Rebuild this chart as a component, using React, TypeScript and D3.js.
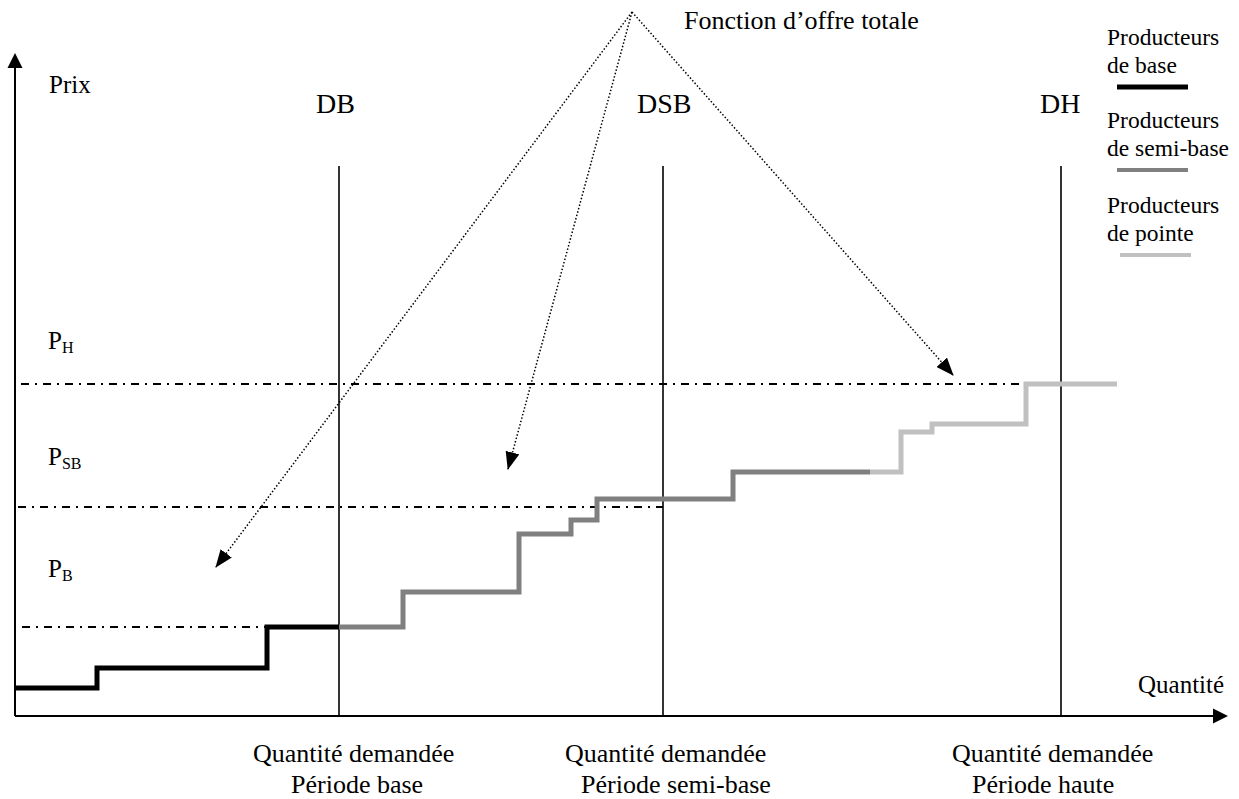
import React from "react";
import * as d3 from "d3";

// ---- data (abstract units: quantity, price) ----
const baseSteps: [number, number][] = [
  [0, 2.8], [8.2, 4.8], [25.2, 8.9], [32.4, 8.9],
];
const semiBaseSteps: [number, number][] = [
  [32.4, 8.9], [38.8, 12.4], [50.4, 18.2], [55.6, 19.6], [58.2, 21.7], [71.8, 24.4], [85.5, 24.4],
];
const peakSteps: [number, number][] = [
  [85.5, 24.4], [88.6, 28.4], [91.7, 29.2], [101.1, 33.2], [110.2, 33.2],
];
const demandNames = ["DB", "DSB", "DH"];
const demandQty = [32.4, 64.8, 104.6];
const demandTop = 55;
const demandLabelLine1 = ["Quantité demandée", "Quantité demandée", "Quantité demandée"];
const demandLabelLine2 = ["Période base", "Période semi-base", "Période haute"];
const priceNames = ["B", "SB", "H"];
const priceLevels = [8.9, 20.9, 33.2];
const priceLineStart = [0.7, 0.3, 0.6];
const priceLineEnd = [25.1, 64.8, 104.6];
const arrowOrigin: [number, number] = [61.7, 70.4];
const arrowTips: [number, number][] = [[20.1, 14.9], [49.3, 24.7], [93.8, 34.1]];
const legendNames = [
  ["Producteurs", "de base"],
  ["Producteurs", "de semi-base"],
  ["Producteurs", "de pointe"],
];
const seriesColors = ["#000000", "#808080", "#c0c0c0"];

const W = 1239;
const H = 799;
const FONT = "'Liberation Serif', 'Times New Roman', serif";

export default function App() {
  const x = d3.scaleLinear().domain([0, 121.3]).range([15, 1228]);
  const y = d3.scaleLinear().domain([0, 66.3]).range([716, 53]);
  const line = d3
    .line<[number, number]>()
    .x((d) => x(d[0]))
    .y((d) => y(d[1]))
    .curve(d3.curveStepAfter);
  const series = [baseSteps, semiBaseSteps, peakSteps];

  const legendY = [45, 128, 213];
  const priceLabelY = [577, 465, 349];
  const labelLine1X = [253, 565, 952];
  const labelLine2X = [291, 581, 972];
  const demandLabelX = [316, 637, 1040];

  return (
    <svg
      width={W}
      height={H}
      style={{ position: "absolute", left: 0, top: 0, background: "#fff" }}
      fontFamily={FONT}
    >
      <defs>
        <marker
          id="tri"
          viewBox="0 0 18 14"
          refX="17"
          refY="7"
          markerWidth="18"
          markerHeight="14"
          markerUnits="userSpaceOnUse"
          orient="auto"
        >
          <path d="M0,0 L18,7 L0,14 Z" fill="#000" />
        </marker>
      </defs>

      {/* axes */}
      <line x1={x(0)} y1={y(0)} x2={x(0)} y2={y(66.3) + 14} stroke="#000" strokeWidth={2} />
      <path
        d={`M${x(0) - 7.5},${y(66.3) + 15} L${x(0)},${y(66.3)} L${x(0) + 7.5},${y(66.3) + 15} Z`}
        fill="#000"
      />
      <line x1={x(0)} y1={y(0)} x2={x(121.3) - 14} y2={y(0)} stroke="#000" strokeWidth={2} />
      <path
        d={`M${x(121.3) - 15},${y(0) - 7.5} L${x(121.3)},${y(0)} L${x(121.3) - 15},${y(0) + 7.5} Z`}
        fill="#000"
      />

      {/* price level lines */}
      {priceLevels.map((p, i) => (
        <line
          key={"p" + i}
          x1={x(priceLineStart[i])}
          x2={x(priceLineEnd[i])}
          y1={y(p)}
          y2={y(p)}
          stroke="#000"
          strokeWidth={1.8}
          strokeDasharray="8 6 2 6"
        />
      ))}

      {/* demand verticals */}
      {demandQty.map((q, i) => (
        <line
          key={"d" + i}
          x1={x(q)}
          x2={x(q)}
          y1={y(0)}
          y2={y(demandTop)}
          stroke="#000"
          strokeWidth={1.6}
        />
      ))}

      {/* supply steps */}
      {series.map((s, i) => (
        <path
          key={"s" + i}
          d={line(s) || ""}
          fill="none"
          stroke={seriesColors[i]}
          strokeWidth={5}
          strokeLinejoin="miter"
          strokeLinecap="butt"
        />
      ))}

      {/* dotted arrows */}
      {arrowTips.map((t, i) => (
        <line
          key={"a" + i}
          x1={x(arrowOrigin[0])}
          y1={y(arrowOrigin[1])}
          x2={x(t[0])}
          y2={y(t[1])}
          stroke="#000"
          strokeWidth={1.5}
          strokeDasharray="1.5 2"
          markerEnd="url(#tri)"
        />
      ))}

      {/* texts */}
      <text x={684} y={29} fontSize={26}>Fonction d’offre totale</text>
      <text x={49} y={93} fontSize={25}>Prix</text>
      <text x={1138} y={693} fontSize={25}>Quantité</text>

      {demandNames.map((n, i) => (
        <text key={"dn" + i} x={demandLabelX[i]} y={113} fontSize={28}>
          {n}
        </text>
      ))}

      {priceNames.map((n, i) => (
        <text key={"pn" + i} x={48} y={priceLabelY[i]} fontSize={25}>
          P
          <tspan fontSize={16} dy={4}>
            {n}
          </tspan>
        </text>
      ))}

      {demandLabelLine1.map((t, i) => (
        <g key={"dl" + i} fontSize={26}>
          <text x={labelLine1X[i]} y={762}>{t}</text>
          <text x={labelLine2X[i]} y={793}>{demandLabelLine2[i]}</text>
        </g>
      ))}

      {/* legend */}
      {legendNames.map((l, i) => (
        <g key={"lg" + i} fontSize={23.5}>
          <text x={1107} y={legendY[i]}>{l[0]}</text>
          <text x={1107} y={legendY[i] + 28}>{l[1]}</text>
          <line
            x1={1117 + (i === 2 ? 3 : 0)}
            x2={1188 + (i === 2 ? 3 : 0)}
            y1={legendY[i] + 42}
            y2={legendY[i] + 42}
            stroke={seriesColors[i]}
            strokeWidth={i === 0 ? 5 : 4}
          />
        </g>
      ))}
    </svg>
  );
}
